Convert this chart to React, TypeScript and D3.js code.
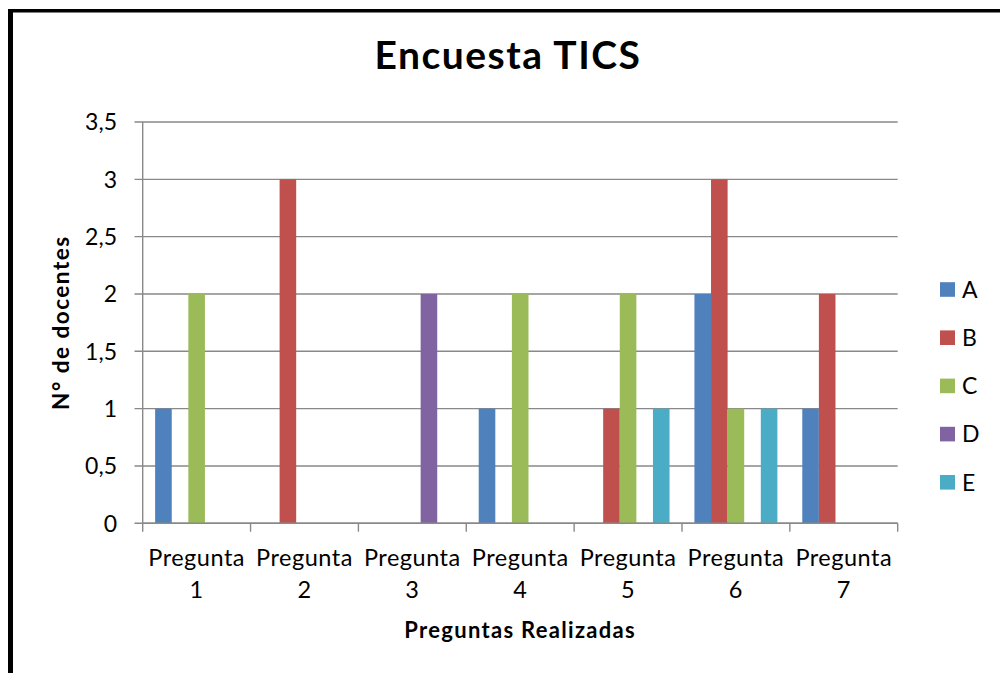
import React from "react";
import * as d3 from "d3";

const categories = ["Pregunta 1", "Pregunta 2", "Pregunta 3", "Pregunta 4", "Pregunta 5", "Pregunta 6", "Pregunta 7"];
const seriesNames = ["A", "B", "C", "D", "E"];
const seriesA = [1, 0, 0, 1, 0, 2, 1];
const seriesB = [0, 3, 0, 0, 1, 3, 2];
const seriesC = [2, 0, 0, 2, 2, 1, 0];
const seriesD = [0, 0, 2, 0, 0, 0, 0];
const seriesE = [0, 0, 0, 0, 1, 1, 0];
const seriesValues = [seriesA, seriesB, seriesC, seriesD, seriesE];
const colors = ["#4F81BD", "#C0504D", "#9BBB59", "#8064A2", "#4BACC6"];
const yTicks = [0, 0.5, 1, 1.5, 2, 2.5, 3, 3.5];

const W = 1000, H = 673;
const plot = { left: 142.7, right: 897.7, top: 122, bottom: 523.3 };
const FONT = "Lato, 'Open Sans', sans-serif";

export default function App() {
  const x0 = d3.scaleBand<string>().domain(categories).range([plot.left, plot.right]).paddingInner(0).paddingOuter(0);
  const catW = x0.bandwidth();
  const barW = catW / 6.5;
  const x1 = d3.scaleBand<string>().domain(seriesNames).range([0.75 * barW, 0.75 * barW + 5 * barW]);
  const y = d3.scaleLinear().domain([0, 3.5]).range([plot.bottom, plot.top]);
  const fmt = (v: number) => String(v).replace(".", ",");
  const grid = "#898989";

  return (
    <svg width={W} height={H} style={{ position: "absolute", left: 0, top: 0, background: "#fff" }}>
      <rect x={0} y={0} width={W} height={H} fill="#fff" />
      {/* frame */}
      <rect x={8} y={9} width={W - 8} height={3.5} fill="#000" />
      <rect x={8} y={9} width={5} height={H - 9} fill="#000" />

      <text x={508} y={69} textAnchor="middle" fontFamily={FONT} fontWeight="bold" fontSize={39} letterSpacing={1.5} fill="#000">
        Encuesta TICS
      </text>

      {/* gridlines and y ticks */}
      {yTicks.map((t) => (
        <g key={t}>
          <line x1={134.5} x2={plot.right} y1={y(t)} y2={y(t)} stroke={grid} strokeWidth={1.4} />
          <text x={117} y={y(t)} dy="0.36em" textAnchor="end" fontFamily={FONT} fontSize={23} fill="#000">
            {fmt(t)}
          </text>
        </g>
      ))}
      <line x1={plot.left} x2={plot.left} y1={plot.top} y2={plot.bottom} stroke={grid} strokeWidth={1.4} />

      {/* bars */}
      {categories.map((c, i) => (
        <g key={c} transform={`translate(${x0(c)},0)`}>
          {seriesNames.map((s, j) =>
            seriesValues[j][i] > 0 ? (
              <rect key={s} x={x1(s)} y={y(seriesValues[j][i])} width={x1.bandwidth()} height={y(0) - y(seriesValues[j][i])} fill={colors[j]} />
            ) : null
          )}
        </g>
      ))}

      {/* x axis */}
      <line x1={plot.left} x2={plot.right} y1={plot.bottom} y2={plot.bottom} stroke={grid} strokeWidth={1.4} />
      {d3.range(categories.length + 1).map((k) => {
        const xx = plot.left + k * catW;
        return <line key={k} x1={xx} x2={xx} y1={plot.bottom} y2={531.7} stroke={grid} strokeWidth={1.4} />;
      })}
      {categories.map((c) => {
        const parts = c.split(" ");
        const cx = (x0(c) as number) + catW / 2;
        return (
          <text key={c} textAnchor="middle" fontFamily={FONT} fontSize={23.5} letterSpacing={0.5} fill="#000">
            <tspan x={cx} y={566}>{parts[0]}</tspan>
            <tspan x={cx} y={598}>{parts[1]}</tspan>
          </text>
        );
      })}

      <text x={(plot.left + plot.right) / 2} y={638} textAnchor="middle" fontFamily={FONT} fontWeight="bold" fontSize={22} letterSpacing={1.3} fill="#000">
        Preguntas Realizadas
      </text>
      <text transform={`translate(69,${(plot.top + plot.bottom) / 2}) rotate(-90)`} textAnchor="middle" fontFamily={FONT} fontWeight="bold" fontSize={22.5} letterSpacing={1.5} fill="#000">
        N° de docentes
      </text>

      {/* legend */}
      {seriesNames.map((s, j) => {
        const cy = 289.5 + j * 48.2;
        return (
          <g key={s}>
            <rect x={940} y={cy - 7.3} width={15} height={14.6} fill={colors[j]} />
            <text x={962} y={cy} dy="0.36em" fontFamily={FONT} fontSize={23} fill="#000">{s}</text>
          </g>
        );
      })}
    </svg>
  );
}
